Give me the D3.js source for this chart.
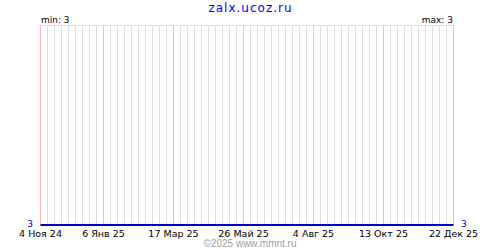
<!DOCTYPE html>
<html>
<head>
<meta charset="utf-8">
<script src="https://cdn.jsdelivr.net/npm/d3@7"></script>
<style>
  body { margin: 0; background: #fff; }
  svg { display: block; }
</style>
</head>
<body>
<svg width="500" height="250"></svg>
<script>
// Data
const siteName = "zalx.ucoz.ru";
const copyright = "©2025 www.mmnt.ru";
const pointDates = ["2024-11-04", "2025-01-06", "2025-03-17", "2025-05-26", "2025-08-04", "2025-10-13", "2025-12-22"];
const pointValues = [3, 3, 3, 3, 3, 3, 3];
const tickDates = ["2024-11-04", "2025-01-06", "2025-03-17", "2025-05-26", "2025-08-04", "2025-10-13", "2025-12-22"];
const tickLabels = ["4 Ноя 24", "6 Янв 25", "17 Мар 25", "26 Май 25", "4 Авг 25", "13 Окт 25", "22 Дек 25"];

const svg = d3.select("svg");
const padding = { top: 25, right: 47, bottom: 25, left: 40 };
const width = 500, height = 250;
const labelFont = "'DejaVu Sans', sans-serif";

const parse = d3.utcParse("%Y-%m-%d");
const data = pointDates.map((d, i) => ({ date: parse(d), value: pointValues[i] }));
const ticks = tickDates.map(parse);

const minV = d3.min(pointValues);
const maxV = d3.max(pointValues);

// 1 px per day
const x = d3.scaleUtc()
    .domain([ticks[0], ticks[ticks.length - 1]])
    .range([padding.left, width - padding.right]);

const y = d3.scaleLinear()
    .domain([minV, maxV === minV ? minV + 1 : maxV])
    .range([height - padding.bottom, padding.top]);

// weekly grid lines (grey), skipping the labelled weeks
const labelled = new Set(ticks.map(d => +d));
const weeks = d3.utcMonday.range(x.domain()[0], d3.utcDay.offset(x.domain()[1], 1))
    .filter(d => !labelled.has(+d));
svg.append("g")
    .attr("transform", `translate(0, ${padding.top})`)
    .call(d3.axisBottom(x).tickValues(weeks).tickSize(height - padding.bottom - padding.top).tickFormat(""))
    .call(g => g.select(".domain").remove())
    .call(g => g.selectAll("line").attr("stroke", "#dedede"));

// labelled grid lines (pink)
svg.append("g")
    .attr("transform", `translate(0, ${padding.top})`)
    .call(d3.axisBottom(x).tickValues(ticks).tickSize(height - padding.bottom - padding.top).tickFormat(""))
    .call(g => g.select(".domain").remove())
    .call(g => g.selectAll("line").attr("stroke", "#ffbbbb"));

// top border
svg.append("line")
    .attr("x1", padding.left).attr("x2", width - padding.right)
    .attr("y1", padding.top + 0.5).attr("y2", padding.top + 0.5)
    .attr("stroke", "#dedede");

// date labels
svg.append("g")
    .selectAll("text")
    .data(ticks)
    .join("text")
    .attr("x", d => x(d) + 0.5)
    .attr("y", 236.5)
    .attr("text-anchor", "middle")
    .attr("font-family", labelFont)
    .attr("font-size", 9.5)
    .attr("fill", "#000")
    .text((d, i) => tickLabels[i]);

// series line
svg.append("path")
    .datum(data)
    .attr("fill", "none")
    .attr("stroke", "#0000cc")
    .attr("stroke-width", 2)
    .attr("d", d3.line().x(d => x(d.date) + 0.5).y(d => y(d.value)));

// value labels at both ends
svg.append("text")
    .attr("x", padding.left - 7)
    .attr("y", y(data[0].value) + 2)
    .attr("text-anchor", "end")
    .attr("font-family", labelFont)
    .attr("font-size", 9)
    .attr("fill", "#0000cc")
    .text(data[0].value);

svg.append("text")
    .attr("x", width - padding.right + 8)
    .attr("y", y(data[data.length - 1].value) + 2)
    .attr("text-anchor", "start")
    .attr("font-family", labelFont)
    .attr("font-size", 9)
    .attr("fill", "#0000cc")
    .text(data[data.length - 1].value);

// min / max
svg.append("text")
    .attr("x", padding.left + 1)
    .attr("y", padding.top - 2.5)
    .attr("font-family", labelFont)
    .attr("font-size", 9)
    .text("min: " + minV);

svg.append("text")
    .attr("x", width - padding.right)
    .attr("y", padding.top - 2.5)
    .attr("text-anchor", "end")
    .attr("font-family", labelFont)
    .attr("font-size", 9)
    .text("max: " + maxV);

// title
svg.append("text")
    .attr("x", width / 2 + 0.5)
    .attr("y", 11.5)
    .attr("text-anchor", "middle")
    .attr("font-family", labelFont)
    .attr("font-size", 12)
    .attr("letter-spacing", 1)
    .attr("fill", "#0000ff")
    .text(siteName);

// copyright
svg.append("text")
    .attr("x", width / 2)
    .attr("y", 247)
    .attr("text-anchor", "middle")
    .attr("font-family", "'Liberation Sans', Arial, sans-serif")
    .attr("font-size", 10)
    .attr("fill", "#a0a0a0")
    .text(copyright);
</script>
</body>
</html>
